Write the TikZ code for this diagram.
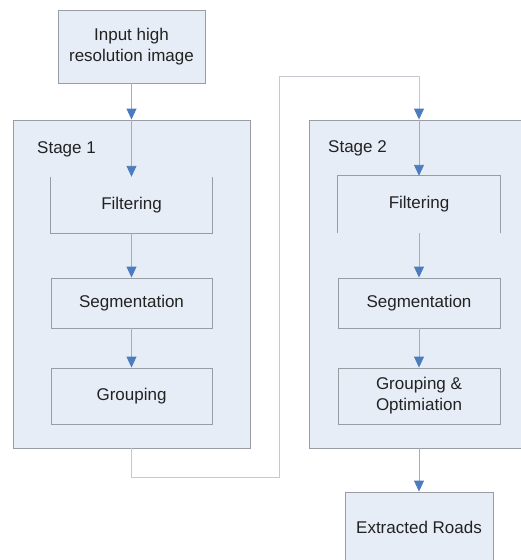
\documentclass[tikz,border=0pt]{standalone}
\usepackage{fontspec}
\setmainfont{Liberation Sans}
\usetikzlibrary{arrows.meta}
\definecolor{boxfill}{HTML}{E7EDF7}
\definecolor{boxline}{HTML}{989CA3}
\definecolor{arrline}{HTML}{9AAFCB}
\definecolor{arrhead}{HTML}{4A7CBE}
\definecolor{connline}{HTML}{C6CACF}
\definecolor{txt}{HTML}{222222}
\begin{document}
\begin{tikzpicture}[x=1pt,y=-1pt,
  txtfont/.style={font=\fontsize{17}{21}\selectfont, text=txt, align=center},
  boxnode/.style={draw=boxline, line width=0.9pt, fill=boxfill, inner sep=0pt, txtfont},
  stagenode/.style={draw=boxline, line width=0.9pt, fill=boxfill, inner sep=0pt, minimum width=237pt, minimum height=328pt},
  filtnode/.style={fill=boxfill, inner sep=0pt, txtfont},
  openside/.style={draw=boxline, line width=0.9pt},
  arrowline/.style={draw=arrline, line width=0.9pt, -{Triangle[width=10pt,length=11pt,color=arrhead]}},
  linkline/.style={draw=connline, line width=1pt, -{Triangle[width=10pt,length=11pt,color=arrhead]}}
]
\useasboundingbox (0,0) rectangle (521,560);
\clip (0,0) rectangle (521,560);
\fill[white] (0,0) rectangle (521,560);

% input
\node[boxnode, minimum width=147pt, minimum height=73pt] (in) at (131.5,46.5) {Input high\\resolution image};

% stages
\node[stagenode] (s1) at (131.5,284) {};
\node[stagenode] (s2) at (427.5,284) {};
\node[txtfont, anchor=west, inner sep=0pt] (l1) at (37,149) {Stage 1};
\node[txtfont, anchor=west, inner sep=0pt] (l2) at (328,148) {Stage 2};

% stage 1 content
\node[filtnode, minimum width=161pt, minimum height=56pt] (f1) at (131.5,205) {Filtering};
\draw[openside] (f1.north west) -- (f1.south west) -- (f1.south east) -- (f1.north east);
\node[boxnode, minimum width=161pt, minimum height=50pt] (seg1) at (131.5,303) {Segmentation};
\node[boxnode, minimum width=161pt, minimum height=56pt] (grp1) at (131.5,396) {Grouping};

% stage 2 content
\node[filtnode, minimum width=162pt, minimum height=57pt] (f2) at (419,204.5) {Filtering};
\draw[openside] (f2.south west) -- (f2.north west) -- (f2.north east) -- (f2.south east);
\node[boxnode, minimum width=162pt, minimum height=50pt] (seg2) at (419,303) {Segmentation};
\node[boxnode, minimum width=162pt, minimum height=56pt] (grp2) at (419,396) {Grouping \&\\Optimiation};

% output
\node[boxnode, minimum width=148pt, minimum height=70pt] (ext) at (419,527) {Extracted Roads};

% helper coordinates
\coordinate (c1) at (279,477);
\coordinate (c2) at (419,76);
\coordinate (s2in) at (f2.north |- s2.north);
\coordinate (s2out) at (ext.north |- s2.south);

% connectors
\draw[arrowline] (in.south) -- (s1.north);
\draw[arrowline] (s1.north) -- (f1.north);
\draw[arrowline] (f1.south) -- (seg1.north);
\draw[arrowline] (seg1.south) -- (grp1.north);
\draw[linkline] (s1.south) |- (c1) |- (c2) -- (s2in);
\draw[arrowline] (s2in) -- (f2.north);
\draw[arrowline] (f2.south) -- (seg2.north);
\draw[arrowline] (seg2.south) -- (grp2.north);
\draw[arrowline] (s2out) -- (ext.north);
\end{tikzpicture}
\end{document}
